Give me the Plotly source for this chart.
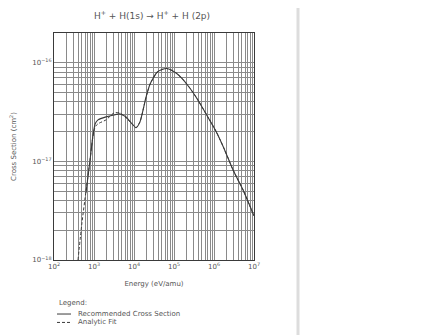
import plotly.graph_objects as go

# Recommended cross section (solid)
rec_energy = [631, 794, 933, 1070, 1260, 2000, 3160, 4470, 6310, 8910, 11200, 14100,
              20000, 25100, 37200, 50100, 66100, 89100, 117000, 158000, 251000, 398000,
              537000, 724000, 1.17e6, 1.78e6, 3.02e6, 5.37e6, 1.0e7]
rec_sigma = [4.8e-18, 1.02e-17, 1.78e-17, 2.4e-17, 2.63e-17, 2.82e-17, 2.95e-17, 3.02e-17,
             2.82e-17, 2.4e-17, 2.19e-17, 2.51e-17, 4.47e-17, 6.03e-17, 7.94e-17, 8.51e-17,
             8.71e-17, 8.32e-17, 7.76e-17, 6.92e-17, 5.5e-17, 4.17e-17, 3.39e-17, 2.75e-17,
             1.95e-17, 1.35e-17, 8.1e-18, 5.1e-18, 2.8e-18]

# Analytic fit (dashed)
fit_energy = [398, 501, 631, 794, 933, 1070, 1260, 2000, 3160, 4470, 6310, 8910, 11200, 14100,
              20000, 25100, 37200, 50100, 66100, 89100, 117000, 158000, 251000, 398000,
              537000, 724000, 1.17e6, 1.78e6, 3.02e6, 5.37e6, 1.0e7]
fit_sigma = [1.0e-18, 2.4e-18, 5.0e-18, 1.02e-17, 1.74e-17, 2.24e-17, 2.4e-17, 2.63e-17,
             3.09e-17, 3.09e-17, 2.75e-17, 2.4e-17, 2.19e-17, 2.51e-17, 4.47e-17, 6.03e-17,
             7.94e-17, 8.51e-17, 8.71e-17, 8.32e-17, 7.76e-17, 6.92e-17, 5.5e-17, 4.17e-17,
             3.39e-17, 2.75e-17, 1.95e-17, 1.35e-17, 8.1e-18, 5.1e-18, 2.8e-18]

x_tickvals = [1e2, 1e3, 1e4, 1e5, 1e6, 1e7]
x_ticktext = ["10<sup>2</sup>", "10<sup>3</sup>", "10<sup>4</sup>", "10<sup>5</sup>",
              "10<sup>6</sup>", "10<sup>7</sup>"]
y_tickvals = [1e-18, 1e-17, 1e-16]
y_ticktext = ["10<sup>\u221218</sup>", "10<sup>\u221217</sup>", "10<sup>\u221216</sup>"]

legend_title = "Legend:"
legend_labels = ["Recommended Cross Section", "Analytic Fit"]

FONT = "DejaVu Sans"
TXT = "#555555"
LINE = "#3a3a3a"
GRID = "#8a8a8a"

fig = go.Figure()
fig.add_trace(go.Scatter(x=rec_energy, y=rec_sigma, mode="lines",
                         name=legend_labels[0], showlegend=False,
                         line=dict(color=LINE, width=1.1, shape="spline", smoothing=0.6)))
fig.add_trace(go.Scatter(x=fit_energy, y=fit_sigma, mode="lines",
                         name=legend_labels[1], showlegend=False,
                         line=dict(color=LINE, width=1, dash="3px,2px", shape="spline",
                                   smoothing=0.6)))

# the page is shown with the browser's default 8px body margin
fig.update_layout(
    width=433, height=335,
    margin=dict(l=46, r=187, t=25, b=83, autoexpand=False),
    paper_bgcolor="white", plot_bgcolor="white",
    font=dict(family=FONT, size=7, color=TXT),
    title=dict(text="H<sup>+</sup> + H(1s) \u2192 H<sup>+</sup> + H (2p)",
               x=144 / 433, xanchor="center", y=1 - 8 / 335, yanchor="middle",
               font=dict(family=FONT, size=9, color=TXT)),
    showlegend=False,
    xaxis=dict(type="log", range=[2, 7], tickvals=x_tickvals, ticktext=x_ticktext,
               showgrid=True, gridcolor=GRID, gridwidth=1,
               minor=dict(showgrid=True, gridcolor=GRID, gridwidth=1, dtick="D1"),
               showline=True, linecolor=LINE, linewidth=1, mirror=True,
               ticks="", tickfont=dict(size=7, color=TXT),
               title=dict(text="Energy (eV/amu)", standoff=10,
                          font=dict(size=7, color=TXT))),
    yaxis=dict(type="log", range=[-18, -15.7], tickvals=y_tickvals, ticktext=y_ticktext,
               showgrid=True, gridcolor=GRID, gridwidth=1,
               minor=dict(showgrid=True, gridcolor=GRID, gridwidth=1, dtick="D1"),
               showline=True, linecolor=LINE, linewidth=1, mirror=True,
               ticks="", tickfont=dict(size=7, color=TXT),
               title=dict(text="Cross Section (cm<sup>2</sup>)", standoff=16,
                          font=dict(size=7, color=TXT))),
)

# hand-drawn style legend below the plot
fig.add_annotation(text=legend_title, xref="paper", yref="paper", x=0.015, y=-0.189,
                   xanchor="left", yanchor="middle", showarrow=False,
                   font=dict(size=7, color=TXT))
for i, (lab, dash) in enumerate(zip(legend_labels, ["solid", "3px,2px"])):
    yy = -0.238 - i * 0.037
    fig.add_shape(type="line", xref="paper", yref="paper", x0=0.015, x1=0.085,
                  y0=yy, y1=yy, line=dict(color=LINE, width=1, dash=dash))
    fig.add_annotation(text=lab, xref="paper", yref="paper", x=0.11, y=yy,
                       xanchor="left", yanchor="middle", showarrow=False,
                       font=dict(size=7, color=TXT))

# page edge of the scanned sheet
fig.add_shape(type="line", xref="paper", yref="paper",
              x0=1.22, x1=1.22, y0=-0.34, y1=1.15,
              line=dict(color="#dddddd", width=3))

fig.write_html("out.html")
